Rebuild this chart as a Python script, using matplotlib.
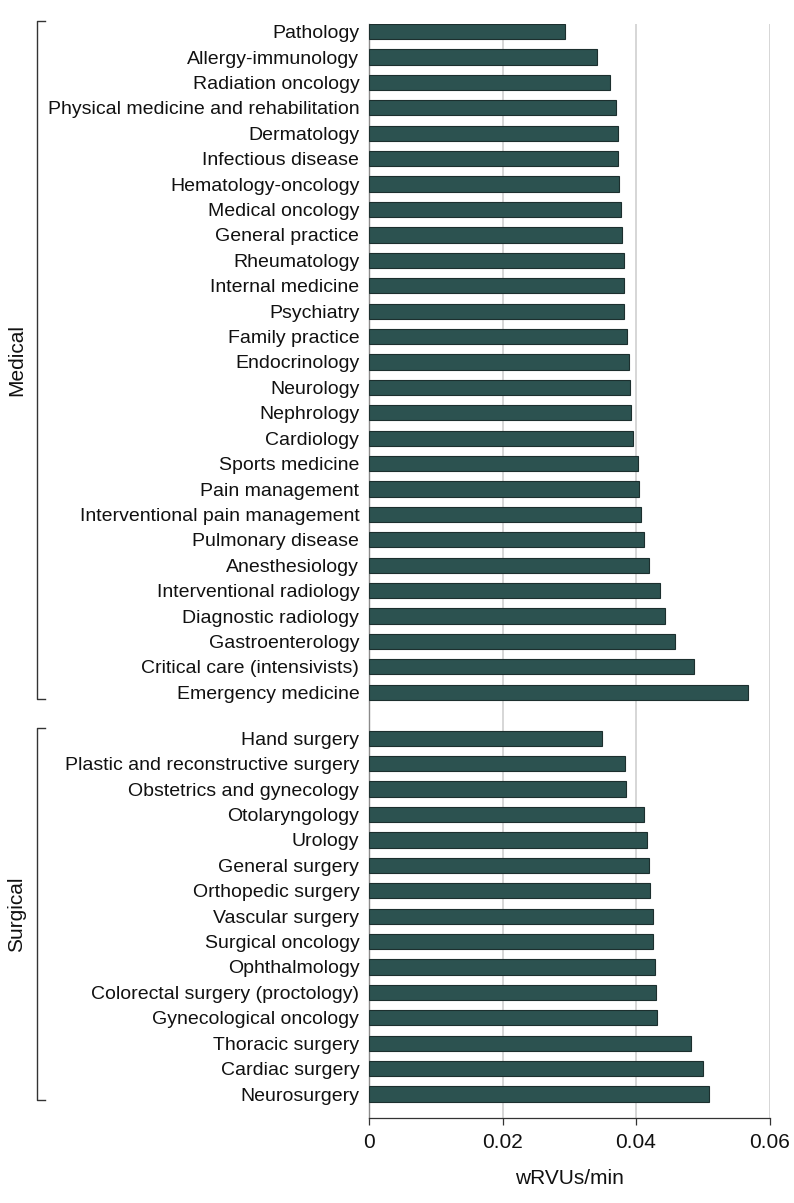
import numpy as np
import matplotlib
matplotlib.use('Agg')
import matplotlib.pyplot as plt
import matplotlib.transforms as mtransforms

plt.rcParams['font.family'] = ['Liberation Sans Narrow', 'Liberation Sans', 'DejaVu Sans']

medical = ['Pathology', 'Allergy-immunology', 'Radiation oncology',
           'Physical medicine and rehabilitation', 'Dermatology', 'Infectious disease',
           'Hematology-oncology', 'Medical oncology', 'General practice', 'Rheumatology',
           'Internal medicine', 'Psychiatry', 'Family practice', 'Endocrinology',
           'Neurology', 'Nephrology', 'Cardiology', 'Sports medicine', 'Pain management',
           'Interventional pain management', 'Pulmonary disease', 'Anesthesiology',
           'Interventional radiology', 'Diagnostic radiology', 'Gastroenterology',
           'Critical care (intensivists)', 'Emergency medicine']
medical_vals = [0.0294, 0.0341, 0.0361, 0.0370, 0.0373, 0.0373, 0.0375, 0.0377,
                0.0379, 0.0382, 0.0382, 0.0382, 0.0386, 0.0389, 0.0391, 0.0392,
                0.0395, 0.0403, 0.0405, 0.0407, 0.0412, 0.0419, 0.0436, 0.0443,
                0.0458, 0.0487, 0.0568]

surgical = ['Hand surgery', 'Plastic and reconstructive surgery', 'Obstetrics and gynecology',
            'Otolaryngology', 'Urology', 'General surgery', 'Orthopedic surgery',
            'Vascular surgery', 'Surgical oncology', 'Ophthalmology',
            'Colorectal surgery (proctology)', 'Gynecological oncology', 'Thoracic surgery',
            'Cardiac surgery', 'Neurosurgery']
surgical_vals = [0.0349, 0.0383, 0.0385, 0.0412, 0.0417, 0.0420, 0.0421, 0.0425,
                 0.0426, 0.0428, 0.0430, 0.0432, 0.0482, 0.0501, 0.0509]

xticks = [0, 0.02, 0.04, 0.06]
xtick_labels = ['0', '0.02', '0.04', '0.06']

W, H = 794, 1203
fig = plt.figure(figsize=(W / 100, H / 100), dpi=100)
ax = fig.add_axes([369 / W, 1 - 1118 / H, (769.5 - 369) / W, (1118 - 24) / H])

gap = 1.81
y_med = np.arange(len(medical))
y_sur = len(medical) - 1 + gap + np.arange(len(surgical))

bar_kw = dict(height=0.6, color='#2c5250', edgecolor='#1c2f2e', linewidth=0.8, zorder=3)
ax.barh(y_med, medical_vals, **bar_kw)
ax.barh(y_sur, surgical_vals, **bar_kw)

ax.set_yticks(np.concatenate([y_med, y_sur]))
ax.set_yticklabels(medical + surgical, fontsize=14, color='#111111')
ax.set_ylim(y_sur[-1] + 0.944, -0.3)
ax.set_xlim(0, 0.06)
ax.set_xticks(xticks)
ax.set_xticklabels(xtick_labels, fontsize=15, color='#111111')
ax.set_xlabel('wRVUs/min', fontsize=15, color='#111111', labelpad=12)

ax.tick_params(axis='y', length=0, pad=7)
ax.tick_params(axis='x', length=5, width=0.9, color='#333333', pad=6)
ax.grid(axis='x', color='#d6d6d6', linewidth=1.4, zorder=0)
ax.set_axisbelow(True)
for s in ['top', 'right']:
    ax.spines[s].set_visible(False)
ax.spines['left'].set_color('#8a8a8a')
ax.spines['left'].set_linewidth(1.0)
ax.spines['bottom'].set_color('#333333')
ax.spines['bottom'].set_linewidth(0.9)

# group brackets on the left
trans = mtransforms.blended_transform_factory(fig.transFigure, ax.transData)
bx0, bx1 = 37 / W, 45 / W
for top, bot, name in [(y_med[0] - 0.42, y_med[-1] + 0.25, 'Medical'),
                       (y_sur[0] - 0.42, y_sur[-1] + 0.25, 'Surgical')]:
    ax.plot([bx1, bx0, bx0, bx1], [top, top, bot, bot], transform=trans,
            color='#333333', linewidth=1.0, clip_on=False)
    ax.text(17 / W, (top + bot) / 2, name, transform=trans, rotation=90,
            ha='center', va='center', fontsize=15, color='#111111')

fig.savefig('out.png', dpi=100)
